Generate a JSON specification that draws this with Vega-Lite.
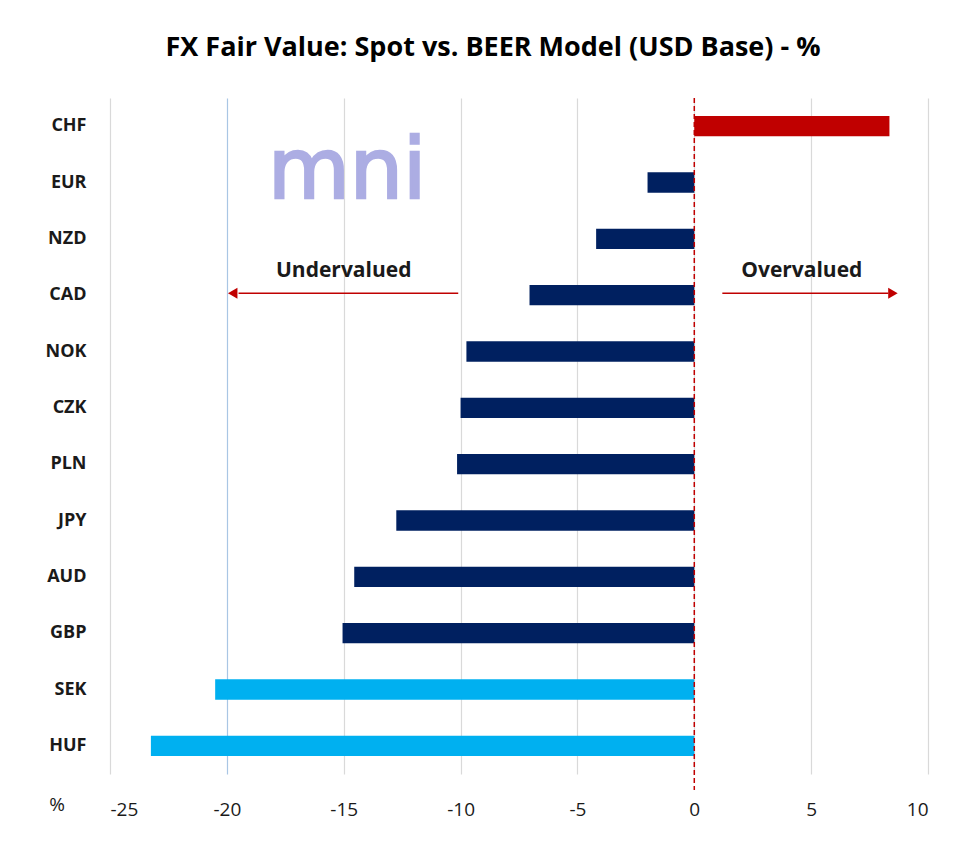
{
  "$schema": "https://vega.github.io/schema/vega-lite/v6.json",
  "width": 818,
  "height": 676,
  "autosize": {"type": "none"},
  "padding": {"left": 110, "top": 98, "right": 52, "bottom": 89},
  "background": "white",
  "title": {
    "text": "FX Fair Value: Spot vs. BEER Model (USD Base) - %",
    "font": "Open Sans",
    "fontSize": 27,
    "fontWeight": "bold",
    "color": "#000000",
    "anchor": "middle",
    "dx": -26,
    "offset": 35
  },
  "config": {
    "view": {"stroke": null},
    "font": "Open Sans"
  },
  "datasets": {
    "bars": [
      {"currency": "CHF", "value": 8.35, "category": "over"},
      {"currency": "EUR", "value": -2.0, "category": "under"},
      {"currency": "NZD", "value": -4.2, "category": "under"},
      {"currency": "CAD", "value": -7.05, "category": "under"},
      {"currency": "NOK", "value": -9.75, "category": "under"},
      {"currency": "CZK", "value": -10.0, "category": "under"},
      {"currency": "PLN", "value": -10.15, "category": "under"},
      {"currency": "JPY", "value": -12.75, "category": "under"},
      {"currency": "AUD", "value": -14.55, "category": "under"},
      {"currency": "GBP", "value": -15.05, "category": "under"},
      {"currency": "SEK", "value": -20.5, "category": "deep"},
      {"currency": "HUF", "value": -23.25, "category": "deep"}
    ],
    "arrows": [
      {"label": "Undervalued", "x1": -10.1, "x2": -19.5, "head": -19.75, "tx": -15.0, "shape": "triangle-left"},
      {"label": "Overvalued", "x1": 1.2, "x2": 8.3, "head": 8.5, "tx": 4.6, "shape": "triangle-right"}
    ]
  },
  "layer": [
    {
      "data": {"values": [{"t": "mni", "x": -14.85, "currency": "EUR"}]},
      "mark": {"type": "text", "fontSize": 84, "font": "DejaVu Sans", "fontWeight": "normal", "color": "#acade3", "baseline": "alphabetic", "yOffset": 15, "stroke": "#acade3", "strokeWidth": 2.5},
      "encoding": {
        "x": {"field": "x", "type": "quantitative", "scale": {"domain": [-25, 10]}},
        "y": {"field": "currency", "type": "nominal"},
        "text": {"field": "t"}
      }
    },
    {
      "data": {"name": "bars"},
      "mark": {"type": "bar"},
      "encoding": {
        "y": {
          "field": "currency",
          "type": "nominal",
          "sort": null,
          "scale": {"domain": ["CHF", "EUR", "NZD", "CAD", "NOK", "CZK", "PLN", "JPY", "AUD", "GBP", "SEK", "HUF"], "paddingInner": 0.64, "paddingOuter": 0.32},
          "axis": {
            "title": null,
            "domain": false,
            "ticks": false,
            "labelPadding": 24,
            "labelFont": "Open Sans",
            "labelFontSize": 18,
            "labelFontWeight": "bold",
            "labelColor": "#1a1a1a"
          }
        },
        "x": {
          "field": "value",
          "type": "quantitative",
          "scale": {"domain": [-25, 10], "nice": false},
          "axis": {
            "title": null,
            "values": [-25, -20, -15, -10, -5, 0, 5, 10],
            "labelExpr": "'' + datum.value",
            "domain": false,
            "ticks": false,
            "grid": true,
            "gridColor": {"condition": {"test": "datum.value === -20", "value": "#a9c6e4"}, "value": "#d9d9d9"},
            "gridWidth": 1.2,
            "labelPadding": 26,
            "labelFont": "Open Sans",
            "labelFontSize": 19,
            "labelColor": "#1a1a1a",
            "labelAngle": 0
          }
        },
        "color": {
          "field": "category",
          "type": "nominal",
          "scale": {"domain": ["over", "under", "deep"], "range": ["#c00000", "#002060", "#00b0f0"]},
          "legend": null
        }
      }
    },
    {
      "data": {"values": [{"x": 0}]},
      "mark": {"type": "rule", "color": "#c00000", "strokeDash": [5, 3], "strokeWidth": 1.5, "y": 0, "y2": 692},
      "encoding": {
        "x": {"field": "x", "type": "quantitative"}
      }
    },
    {
      "data": {"name": "arrows"},
      "mark": {"type": "rule", "color": "#c00000", "strokeWidth": 1.5, "yOffset": -2},
      "encoding": {
        "x": {"field": "x1", "type": "quantitative"},
        "x2": {"field": "x2"},
        "y": {"datum": "CAD", "type": "nominal"}
      }
    },
    {
      "data": {"name": "arrows"},
      "mark": {"type": "point", "filled": true, "color": "#c00000", "size": 120, "opacity": 1, "yOffset": -2},
      "encoding": {
        "x": {"field": "head", "type": "quantitative"},
        "y": {"datum": "CAD", "type": "nominal"},
        "shape": {"field": "shape", "type": "nominal", "scale": null}
      }
    },
    {
      "data": {"name": "arrows"},
      "mark": {"type": "text", "fontSize": 21, "fontWeight": "bold", "font": "Open Sans", "color": "#1a1a1a", "baseline": "middle", "yOffset": -24},
      "encoding": {
        "x": {"field": "tx", "type": "quantitative"},
        "y": {"datum": "CAD", "type": "nominal"},
        "text": {"field": "label"}
      }
    },
    {
      "data": {"values": [{"t": "%", "x": -25, "currency": "HUF"}]},
      "mark": {"type": "text", "fontSize": 19, "font": "Open Sans", "color": "#1a1a1a", "baseline": "middle", "align": "center", "dx": -53, "yOffset": 59},
      "encoding": {
        "x": {"field": "x", "type": "quantitative"},
        "y": {"field": "currency", "type": "nominal"},
        "text": {"field": "t"}
      }
    }
  ]
}
